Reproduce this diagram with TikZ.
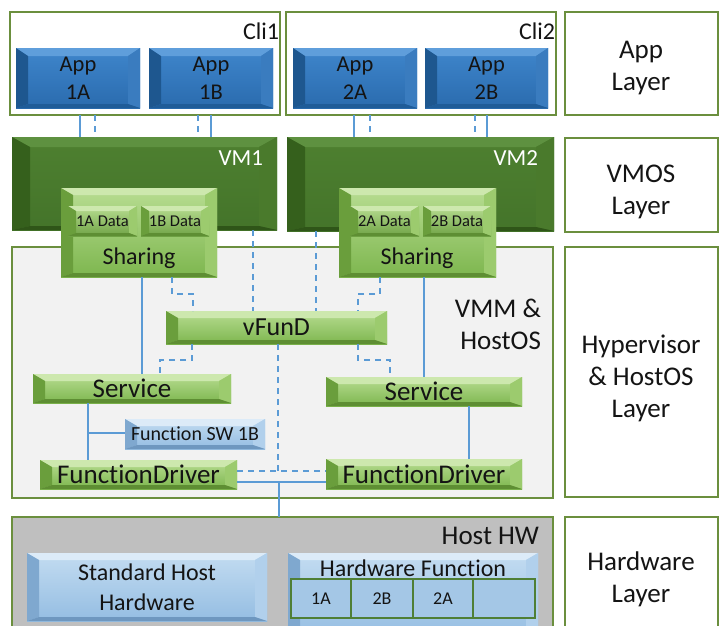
\documentclass[tikz,border=0pt]{standalone}
\usepackage{fontspec}
\setmainfont{Carlito}[Ligatures=NoCommon]
\definecolor{frame}{HTML}{6B8F3E}
\definecolor{txt}{HTML}{141414}
\definecolor{conn}{HTML}{5B9BD5}
\definecolor{hypbg}{HTML}{F2F2F2}
\definecolor{hwbg}{HTML}{BFBFBF}
\definecolor{appT}{HTML}{3F86CC}\definecolor{appB}{HTML}{2A6BAE}
\definecolor{appTop}{HTML}{5F9EDB}\definecolor{appLeft}{HTML}{1E578F}
\definecolor{appRight}{HTML}{3A7CBF}\definecolor{appBot}{HTML}{1F5C98}
\definecolor{vmT}{HTML}{4E8030}\definecolor{vmB}{HTML}{44742A}
\definecolor{vmTop}{HTML}{5E9140}\definecolor{vmLeft}{HTML}{35601C}
\definecolor{vmRight}{HTML}{4A7A2C}\definecolor{vmBot}{HTML}{2F5518}
\definecolor{lgT}{HTML}{B8DD92}\definecolor{lgB}{HTML}{7DB64E}
\definecolor{lgTop}{HTML}{CDE8AE}\definecolor{lgLeft}{HTML}{6A9E3C}
\definecolor{lgRight}{HTML}{9CCB6E}\definecolor{lgBot}{HTML}{5E8E33}
\definecolor{lbT}{HTML}{C3DCF1}\definecolor{lbB}{HTML}{94BDE2}
\definecolor{lbTop}{HTML}{DCEBF8}\definecolor{lbLeft}{HTML}{7FA8CF}
\definecolor{lbRight}{HTML}{B1D0EC}\definecolor{lbBot}{HTML}{6E97BF}
\definecolor{cellbd}{HTML}{4F7F35}

\newcommand\fsz[2]{\fontsize{#1}{#2}\selectfont}
\newcommand\bevpic[7]{%
  \path (path picture bounding box.north west) coordinate (bA)
        (path picture bounding box.north east) coordinate (bB)
        (path picture bounding box.south east) coordinate (bC)
        (path picture bounding box.south west) coordinate (bD);
  \path ([shift={(#5pt,-#6pt)}]bA) coordinate (iA)
        ([shift={(-#5pt,-#6pt)}]bB) coordinate (iB)
        ([shift={(-#5pt,#7pt)}]bC) coordinate (iC)
        ([shift={(#5pt,#7pt)}]bD) coordinate (iD);
  \fill[#1] (bA)--(bB)--(iB)--(iA)--cycle;
  \fill[#2] (bA)--(iA)--(iD)--(bD)--cycle;
  \fill[#3] (bB)--(iB)--(iC)--(bC)--cycle;
  \fill[#4] (bD)--(iD)--(iC)--(bC)--cycle;
}
\newcommand\bx[7]{\node[#2, anchor=north west, minimum width={#5-#3}, minimum height={#6-#4}] (#1) at (#3,#4) {#7};}

\tikzset{
  frm/.style={draw=frame, line width=1.2pt, inner sep=0pt, outer sep=0pt},
  bev/.style={inner sep=0pt, outer sep=0pt, align=center, text=txt},
  appbox/.style={bev, top color=appT, bottom color=appB, text=txt,
    path picture={\bevpic{appTop}{appLeft}{appRight}{appBot}{12}{8}{4}}, font=\fsz{22.5}{28}},
  vmbox/.style={bev, top color=vmT, bottom color=vmB,
    path picture={\bevpic{vmTop}{vmLeft}{vmRight}{vmBot}{18}{10}{4}}},
  lgbox/.style={bev, top color=lgT, bottom color=lgB,
    path picture={\bevpic{lgTop}{lgLeft}{lgRight}{lgBot}{12}{7}{4}}},
  databox/.style={bev, top color=lgT, bottom color=lgB!90!black,
    path picture={\bevpic{lgTop}{lgLeft}{lgRight}{lgBot}{8}{5}{3}}, font=\fsz{16.5}{19}},
  lbbox/.style={bev, top color=lbT, bottom color=lbB,
    path picture={\bevpic{lbTop}{lbLeft}{lbRight}{lbBot}{12}{7}{4}}},
  cellbox/.style={inner sep=0pt, outer sep=0pt, draw=cellbd, line width=1.3pt, fill=lbB!85!white, font=\fsz{18}{22}, text=txt},
  lbl/.style={inner sep=0pt, outer sep=0pt, text=txt},
  solidc/.style={draw=conn, line width=2.6pt},
  dashc/.style={draw=conn, line width=2.2pt, dash pattern=on 6pt off 5pt},
}

\begin{document}
\begin{tikzpicture}[x=1pt, y=-1pt]
\useasboundingbox (0,0) rectangle (720,625);
\clip (0,0) rectangle (720,625);

% frames
\bx{cli1}{frm, fill=white}{10}{12}{280}{115}{}
\bx{cli2}{frm, fill=white}{286}{12}{556}{115}{}
\bx{layApp}{frm, fill=white}{565}{12}{718}{115}{}
\bx{layVM}{frm, fill=white}{565}{138}{718}{232}{}
\bx{hyp}{frm, fill=hypbg}{12}{247}{553}{498}{}
\bx{layHyp}{frm, fill=white}{565}{247}{718}{497}{}
\bx{hosthw}{frm, fill=hwbg}{12}{517}{553}{640}{}
\bx{layHW}{frm, fill=white}{565}{517}{718}{640}{}

\node[lbl, anchor=east, font=\fsz{24}{28}] (cli1t) at (279,31) {Cli1};
\node[lbl, anchor=east, font=\fsz{24}{28}] (cli2t) at (555,31) {Cli2};
\node[lbl, align=center, font=\fsz{27}{32}] (layAppt) at (641,68) {App\\Layer};
\node[lbl, align=center, font=\fsz{27}{32}] (layVMt) at (641,192) {VMOS\\Layer};
\node[lbl, align=center, font=\fsz{27}{32}] (layHypt) at (641,378) {Hypervisor\\\& HostOS\\Layer};
\node[lbl, align=center, font=\fsz{27}{32}] (layHWt) at (641,579) {Hardware\\Layer};

% apps
\bx{app1A}{appbox}{16}{48}{140}{108}{App\\1A}
\bx{app1B}{appbox}{149}{48}{273}{108}{App\\1B}
\bx{app2A}{appbox}{293}{48}{417}{108}{App\\2A}
\bx{app2B}{appbox}{425}{48}{548}{108}{App\\2B}

% VMs
\bx{vm1}{vmbox}{12}{137}{277}{230}{}
\bx{vm2}{vmbox}{287}{137}{554}{231}{}
\node[lbl, anchor=east, text=white, font=\fsz{23}{28}] (vm1t) at (263,158) {VM1};
\node[lbl, anchor=east, text=white, font=\fsz{23}{28}] (vm2t) at (538,158) {VM2};

% sharing
\bx{sh1}{lgbox}{61}{188}{217}{277}{}
\bx{d1A}{databox}{68}{206}{137}{236}{1A Data}
\bx{d1B}{databox}{141}{206}{209}{236}{1B Data}
\node[lbl, font=\fsz{24}{28}] (sh1t) at (139,258) {Sharing};
\bx{sh2}{lgbox}{339}{188}{496}{277}{}
\bx{d2A}{databox}{350}{206}{419}{236}{2A Data}
\bx{d2B}{databox}{423}{206}{491}{236}{2B Data}
\node[lbl, font=\fsz{24}{28}] (sh2t) at (417,258) {Sharing};

\node[lbl, anchor=north east, align=right, font=\fsz{27}{32}] (vmmt) at (541,299) {VMM \&\\HostOS};

% hypervisor boxes
\bx{vfund}{lgbox, font=\fsz{26}{30}}{166}{311}{387}{344}{vFunD}
\bx{srv1}{lgbox, font=\fsz{27}{30}}{33}{374}{231}{403}{Service}
\bx{srv2}{lgbox, font=\fsz{27}{30}}{326}{377}{522}{406}{Service}
\bx{fsw}{lbbox, font=\fsz{20}{24}}{125}{419}{265}{449}{Function SW 1B}
\bx{fd1}{lgbox, font=\fsz{27}{30}}{40}{460}{237}{489}{FunctionDriver}
\bx{fd2}{lgbox, font=\fsz{27}{30}}{326}{459}{522}{489}{FunctionDriver}

% hardware
\node[lbl, anchor=east, font=\fsz{27}{30}] (hwt) at (539,536) {Host HW};
\bx{std}{lbbox, font=\fsz{24}{30}}{27}{553}{267}{621}{Standard Host\\Hardware}
\bx{hwf}{lbbox}{288}{553}{538}{640}{}
\node[lbl, font=\fsz{24}{28}] (hwft) at (413,568) {Hardware Function};
\bx{c1}{cellbox}{291}{579}{351}{618}{1A}
\bx{c2}{cellbox}{351}{579}{413}{618}{2B}
\bx{c3}{cellbox}{413}{579}{473}{618}{2A}
\bx{c4}{cellbox}{473}{579}{535}{618}{}

% app -> vm connectors
\draw[solidc] (80,0 |- cli1.south) -- (80,0 |- vm1.north);
\draw[dashc] (95,0 |- cli1.south) -- (95,0 |- vm1.north);
\draw[dashc] (198,0 |- cli1.south) -- (198,0 |- vm1.north);
\draw[solidc] (211,0 |- cli1.south) -- (211,0 |- vm1.north);
\draw[solidc] (354,0 |- cli2.south) -- (354,0 |- vm2.north);
\draw[dashc] (370,0 |- cli2.south) -- (370,0 |- vm2.north);
\draw[dashc] (475,0 |- cli2.south) -- (475,0 |- vm2.north);
\draw[solidc] (487,0 |- cli2.south) -- (487,0 |- vm2.north);

% vm / sharing -> vfund / services
\draw[solidc] (142,0 |- sh1.south) -- (142,0 |- srv1.north);
\draw[dashc] (172,0 |- sh1.south) -- (172,294) -- (193,294) -- (193,0 |- vfund.north);
\draw[dashc] (253,0 |- vm1.south) -- (253,0 |- vfund.north);
\draw[dashc] (316,0 |- vm2.south) -- (316,0 |- vfund.north);
\draw[dashc] (380,0 |- sh2.south) -- (380,294) -- (358,294) -- (358,0 |- vfund.north);
\draw[solidc] (424,0 |- sh2.south) -- (424,0 |- srv2.north);

\draw[dashc] (192,0 |- vfund.south) -- (192,360) -- (160,360) -- (160,0 |- srv1.north);
\draw[dashc] (358,0 |- vfund.south) -- (358,360) -- (390,360) -- (390,0 |- srv2.north);
\draw[dashc] (278,0 |- vfund.south) -- (278,471);

% services -> drivers
\draw[solidc] (88,0 |- srv1.south) -- (88,0 |- fd1.north);
\draw[solidc] (88,433) -- (fsw.west |- 0,433);
\draw[solidc] (469,0 |- srv2.south) -- (469,0 |- fd2.north);
\draw[dashc] (fd1.east |- 0,471) -- (fd2.west |- 0,471);
\draw[solidc] (fd1.east |- 0,482) -- (fd2.west |- 0,482);
\draw[solidc] (279,482) -- (279,0 |- hosthw.north);
\end{tikzpicture}
\end{document}
